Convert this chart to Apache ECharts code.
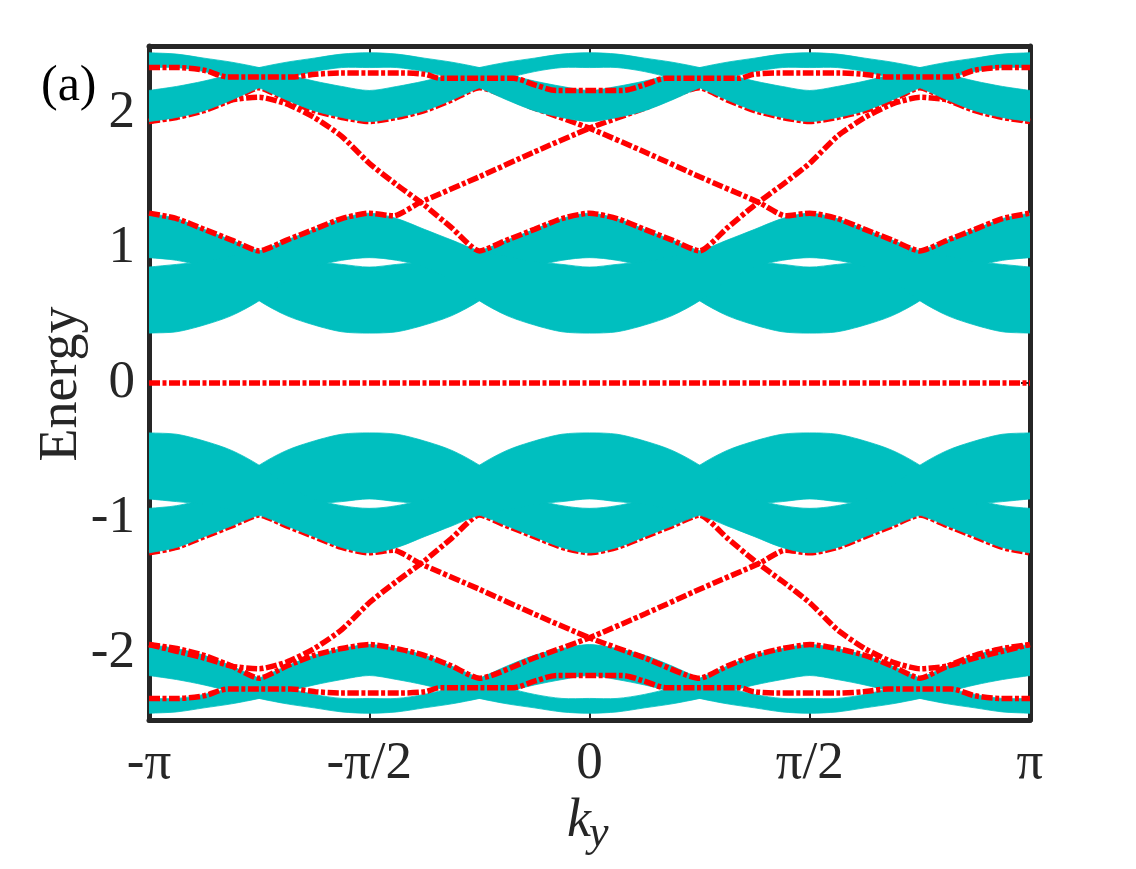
<!DOCTYPE html>
<html>
<head>
<meta charset="utf-8">
<script src="https://cdn.jsdelivr.net/npm/echarts@6/dist/echarts.min.js"></script>
<style>
  html, body { margin: 0; background: #fff; }
  #chart { width: 1136px; height: 869px; }
</style>
</head>
<body>
<div id="chart"></div>
<script>
// ky in units of pi, sampled every pi/16
const ky = [-1, -0.9375, -0.875, -0.8125, -0.75, -0.6875, -0.625, -0.5625, -0.5, -0.4375, -0.375, -0.3125, -0.25, -0.1875, -0.125, -0.0625, 0,
  0.0625, 0.125, 0.1875, 0.25, 0.3125, 0.375, 0.4375, 0.5, 0.5625, 0.625, 0.6875, 0.75, 0.8125, 0.875, 0.9375, 1];

const xTickValues = [-1, -0.5, 0, 0.5, 1];
const xTickLabels = ["-π", "-π/2", "0", "π/2", "π"];
const yTickValues = [-2, -1, 0, 1, 2];

// bulk bands, top group (two ribbons crossing)
const topQHi = [2.45, 2.44, 2.41, 2.38, 2.34, 2.29, 2.24, 2.20, 2.17, 2.20, 2.24, 2.29, 2.34, 2.38, 2.41, 2.44, 2.45,
  2.44, 2.41, 2.38, 2.34, 2.29, 2.24, 2.20, 2.17, 2.20, 2.24, 2.29, 2.34, 2.38, 2.41, 2.44, 2.45];
const topQLo = [2.34, 2.34, 2.31, 2.26, 2.19, 2.10, 2.02, 1.97, 1.94, 1.97, 2.02, 2.10, 2.19, 2.26, 2.31, 2.34, 2.34,
  2.34, 2.31, 2.26, 2.19, 2.10, 2.02, 1.97, 1.94, 1.97, 2.02, 2.10, 2.19, 2.26, 2.31, 2.34, 2.34];
const topPHi = [2.17, 2.20, 2.24, 2.29, 2.34, 2.38, 2.41, 2.44, 2.45, 2.44, 2.41, 2.38, 2.34, 2.29, 2.24, 2.20, 2.17,
  2.20, 2.24, 2.29, 2.34, 2.38, 2.41, 2.44, 2.45, 2.44, 2.41, 2.38, 2.34, 2.29, 2.24, 2.20, 2.17];
const topPLo = [1.94, 1.97, 2.02, 2.10, 2.19, 2.26, 2.31, 2.34, 2.34, 2.34, 2.31, 2.26, 2.19, 2.10, 2.02, 1.97, 1.94,
  1.97, 2.02, 2.10, 2.19, 2.26, 2.31, 2.34, 2.34, 2.34, 2.31, 2.26, 2.19, 2.10, 2.02, 1.97, 1.94];

// bulk bands, middle upper group
const midRHi = [1.26, 1.22, 1.14, 1.06, 0.98, 0.94, 0.90, 0.88, 0.86, 0.88, 0.90, 0.94, 0.98, 1.06, 1.14, 1.22, 1.26,
  1.22, 1.14, 1.06, 0.98, 0.94, 0.90, 0.88, 0.86, 0.88, 0.90, 0.94, 0.98, 1.06, 1.14, 1.22, 1.26];
const midRLo = [0.93, 0.91, 0.86, 0.76, 0.61, 0.50, 0.43, 0.38, 0.37, 0.38, 0.43, 0.50, 0.61, 0.76, 0.86, 0.91, 0.93,
  0.91, 0.86, 0.76, 0.61, 0.50, 0.43, 0.38, 0.37, 0.38, 0.43, 0.50, 0.61, 0.76, 0.86, 0.91, 0.93];
const midSHi = [0.86, 0.88, 0.90, 0.94, 0.98, 1.06, 1.14, 1.22, 1.26, 1.22, 1.14, 1.06, 0.98, 0.94, 0.90, 0.88, 0.86,
  0.88, 0.90, 0.94, 0.98, 1.06, 1.14, 1.22, 1.26, 1.22, 1.14, 1.06, 0.98, 0.94, 0.90, 0.88, 0.86];
const midSLo = [0.37, 0.38, 0.43, 0.50, 0.61, 0.76, 0.86, 0.91, 0.93, 0.91, 0.86, 0.76, 0.61, 0.50, 0.43, 0.38, 0.37,
  0.38, 0.43, 0.50, 0.61, 0.76, 0.86, 0.91, 0.93, 0.91, 0.86, 0.76, 0.61, 0.50, 0.43, 0.38, 0.37];

// bulk bands, middle lower group
const lowRHi = [-0.93, -0.91, -0.86, -0.76, -0.61, -0.50, -0.43, -0.38, -0.37, -0.38, -0.43, -0.50, -0.61, -0.76, -0.86, -0.91, -0.93,
  -0.91, -0.86, -0.76, -0.61, -0.50, -0.43, -0.38, -0.37, -0.38, -0.43, -0.50, -0.61, -0.76, -0.86, -0.91, -0.93];
const lowRLo = [-1.26, -1.22, -1.14, -1.06, -0.98, -0.94, -0.90, -0.88, -0.86, -0.88, -0.90, -0.94, -0.98, -1.06, -1.14, -1.22, -1.26,
  -1.22, -1.14, -1.06, -0.98, -0.94, -0.90, -0.88, -0.86, -0.88, -0.90, -0.94, -0.98, -1.06, -1.14, -1.22, -1.26];
const lowSHi = [-0.37, -0.38, -0.43, -0.50, -0.61, -0.76, -0.86, -0.91, -0.93, -0.91, -0.86, -0.76, -0.61, -0.50, -0.43, -0.38, -0.37,
  -0.38, -0.43, -0.50, -0.61, -0.76, -0.86, -0.91, -0.93, -0.91, -0.86, -0.76, -0.61, -0.50, -0.43, -0.38, -0.37];
const lowSLo = [-0.86, -0.88, -0.90, -0.94, -0.98, -1.06, -1.14, -1.22, -1.26, -1.22, -1.14, -1.06, -0.98, -0.94, -0.90, -0.88, -0.86,
  -0.88, -0.90, -0.94, -0.98, -1.06, -1.14, -1.22, -1.26, -1.22, -1.14, -1.06, -0.98, -0.94, -0.90, -0.88, -0.86];

// bulk bands, bottom group
const botQHi = [-2.34, -2.34, -2.31, -2.26, -2.19, -2.10, -2.02, -1.97, -1.94, -1.97, -2.02, -2.10, -2.19, -2.26, -2.31, -2.34, -2.34,
  -2.34, -2.31, -2.26, -2.19, -2.10, -2.02, -1.97, -1.94, -1.97, -2.02, -2.10, -2.19, -2.26, -2.31, -2.34, -2.34];
const botQLo = [-2.45, -2.44, -2.41, -2.38, -2.34, -2.29, -2.24, -2.20, -2.17, -2.20, -2.24, -2.29, -2.34, -2.38, -2.41, -2.44, -2.45,
  -2.44, -2.41, -2.38, -2.34, -2.29, -2.24, -2.20, -2.17, -2.20, -2.24, -2.29, -2.34, -2.38, -2.41, -2.44, -2.45];
const botPHi = [-1.94, -1.97, -2.02, -2.10, -2.19, -2.26, -2.31, -2.34, -2.34, -2.34, -2.31, -2.26, -2.19, -2.10, -2.02, -1.97, -1.94,
  -1.97, -2.02, -2.10, -2.19, -2.26, -2.31, -2.34, -2.34, -2.34, -2.31, -2.26, -2.19, -2.10, -2.02, -1.97, -1.94];
const botPLo = [-2.17, -2.20, -2.24, -2.29, -2.34, -2.38, -2.41, -2.44, -2.45, -2.44, -2.41, -2.38, -2.34, -2.29, -2.24, -2.20, -2.17,
  -2.20, -2.24, -2.29, -2.34, -2.38, -2.41, -2.44, -2.45, -2.44, -2.41, -2.38, -2.34, -2.29, -2.24, -2.20, -2.17];

// edge states (red dash-dot)
const zeroKy = [-1, 1];
const zeroE = [0, 0];

const l1Ky = [-1, -0.937, -0.875, -0.821, -0.75, -0.678, -0.622, -0.565, -0.5, -0.429, -0.373, -0.339, -0.25, -0.173, -0.123, -0.074, 0,
  0.074, 0.123, 0.173, 0.25, 0.339, 0.373, 0.429, 0.5, 0.565, 0.622, 0.678, 0.75, 0.821, 0.875, 0.937, 1];
const l1E = [2.34, 2.34, 2.32, 2.27, 2.27, 2.27, 2.29, 2.30, 2.30, 2.30, 2.29, 2.26, 2.26, 2.26, 2.21, 2.17, 2.17,
  2.17, 2.21, 2.26, 2.26, 2.26, 2.29, 2.30, 2.30, 2.30, 2.29, 2.27, 2.27, 2.27, 2.32, 2.34, 2.34];
const l1mE = [-2.34, -2.34, -2.32, -2.27, -2.27, -2.27, -2.29, -2.30, -2.30, -2.30, -2.29, -2.26, -2.26, -2.26, -2.21, -2.17, -2.17,
  -2.17, -2.21, -2.26, -2.26, -2.26, -2.29, -2.30, -2.30, -2.30, -2.29, -2.27, -2.27, -2.27, -2.32, -2.34, -2.34];

const p1Ky = [-1, -0.9375, -0.875, -0.8125, -0.75, -0.6875, -0.625, -0.5625, -0.5, -0.445, -0.384, -0.25, -0.128, 0, 0.126, 0.25,
  0.3125, 0.375, 0.4375, 0.5, 0.5625, 0.625, 0.6875, 0.75, 0.8125, 0.875, 0.9375, 1];
const p1E = [1.26, 1.22, 1.14, 1.06, 0.98, 1.06, 1.14, 1.22, 1.26, 1.24, 1.34, 1.53, 1.71, 1.89, 2.04, 2.19,
  2.10, 2.02, 1.97, 1.94, 1.97, 2.02, 2.10, 2.19, 2.10, 2.02, 1.97, 1.94];
const p1mKy = [-1, -0.9375, -0.875, -0.8125, -0.75, -0.6875, -0.625, -0.5625, -0.5, -0.4375, -0.375, -0.3125, -0.25,
  -0.126, 0, 0.128, 0.25, 0.384, 0.445, 0.5, 0.5625, 0.625, 0.6875, 0.75, 0.8125, 0.875, 0.9375, 1];
const p1mE = [1.94, 1.97, 2.02, 2.10, 2.19, 2.10, 2.02, 1.97, 1.94, 1.97, 2.02, 2.10, 2.19,
  2.04, 1.89, 1.71, 1.53, 1.34, 1.24, 1.26, 1.22, 1.14, 1.06, 0.98, 1.06, 1.14, 1.22, 1.26];
const p2E = [1.94, 1.99, 2.04, 2.10, 2.12, 2.07, 1.97, 1.83, 1.63, 1.47, 1.32, 1.15, 0.98, 1.06, 1.14, 1.22, 1.26,
  1.22, 1.14, 1.06, 0.98, 1.15, 1.32, 1.47, 1.63, 1.83, 1.97, 2.07, 2.12, 2.10, 2.04, 1.99, 1.94];

const q1E = [-1.26, -1.22, -1.14, -1.06, -0.98, -1.06, -1.14, -1.22, -1.26, -1.24, -1.34, -1.53, -1.71, -1.89, -2.04, -2.19,
  -2.10, -2.02, -1.97, -1.94, -1.97, -2.02, -2.10, -2.19, -2.10, -2.02, -1.97, -1.94];
const q1mE = [-1.94, -1.97, -2.02, -2.10, -2.19, -2.10, -2.02, -1.97, -1.94, -1.97, -2.02, -2.10, -2.19,
  -2.04, -1.89, -1.71, -1.53, -1.34, -1.24, -1.26, -1.22, -1.14, -1.06, -0.98, -1.06, -1.14, -1.22, -1.26];
const q2E = [-1.94, -1.99, -2.04, -2.10, -2.12, -2.07, -1.97, -1.83, -1.63, -1.47, -1.32, -1.15, -0.98, -1.06, -1.14, -1.22, -1.26,
  -1.22, -1.14, -1.06, -0.98, -1.15, -1.32, -1.47, -1.63, -1.83, -1.97, -2.07, -2.12, -2.10, -2.04, -1.99, -1.94];

const CYAN = "#00bfbf";
const RED = "#ff0000";
const INK = "#262626";
const SERIF = '"Liberation Serif", "Times New Roman", serif';

const pairs = (xs, ys) => xs.map((x, i) => [x, ys[i]]);

// one filled ribbon between an upper and a lower edge, drawn as a single polygon
const ribbon = (hi, lo, z) => ({
  type: "custom", z: z, silent: true, clip: true,
  data: ky.map((k, i) => [k, hi[i], lo[i]]),
  renderItem: (params, api) => {
    if (params.dataIndexInside !== 0) return;
    const upper = [], lower = [];
    for (let i = 0; i < ky.length; i++) {
      upper.push(api.coord([api.value(0, i), api.value(1, i)]));
      lower.push(api.coord([api.value(0, i), api.value(2, i)]));
    }
    lower.reverse();
    const n = upper.length;
    // corners doubled so the smoothing keeps them sharp
    const pts = [upper[0]].concat(upper, [upper[n - 1], lower[0]], lower, [lower[n - 1]]);
    return {
      type: "polygon",
      shape: { points: pts, smooth: 0.3 },
      style: { fill: CYAN, stroke: CYAN, lineWidth: 0.8 },
    };
  },
});

const edge = (xs, ys, z, smooth) => ({
  type: "line", z: z, smooth: smooth, symbol: "none", silent: true,
  data: pairs(xs, ys),
  lineStyle: { color: RED, width: 5.5, type: [11, 2.5, 4, 2.5], cap: "butt" },
});

const chart = echarts.init(document.getElementById("chart"));

const xBase = {
  type: "value", min: -1, max: 1, interval: 0.5,
  axisLine: { show: true, onZero: false, lineStyle: { color: INK, width: 5 } },
  axisTick: { show: true, inside: true, length: 9, lineStyle: { color: INK, width: 2 } },
  splitLine: { show: false },
};
const yBase = {
  type: "value", min: -2.5, max: 2.5,
  axisLine: { show: true, onZero: false, lineStyle: { color: INK, width: 5 } },
  axisTick: { show: true, inside: true, length: 9, customValues: yTickValues, lineStyle: { color: INK, width: 2 } },
  splitLine: { show: false },
};

chart.setOption({
  animation: false,
  backgroundColor: "#fff",
  grid: { left: 149, top: 46, width: 881, height: 674 },
  xAxis: [
    Object.assign({}, xBase, {
      position: "bottom",
      axisLabel: {
        margin: 18, fontFamily: SERIF, fontSize: 53, color: INK,
        formatter: (v) => xTickLabels[xTickValues.indexOf(Math.round(v * 2) / 2)],
      },
    }),
    Object.assign({}, xBase, { position: "top", axisLabel: { show: false } }),
  ],
  yAxis: [
    Object.assign({}, yBase, {
      position: "left",
      axisLabel: { margin: 14, fontFamily: SERIF, fontSize: 53, color: INK, customValues: yTickValues },
    }),
    Object.assign({}, yBase, { position: "right", axisLabel: { show: false } }),
  ],
  graphic: [
    { type: "text", x: 41, y: 87, style: { text: "(a)", fontFamily: SERIF, fontSize: 50, fill: "#000", verticalAlign: "middle" } },
    { type: "text", x: 62, y: 384, rotation: Math.PI / 2,
      style: { text: "Energy", fontFamily: SERIF, fontSize: 54, fill: INK, align: "center", verticalAlign: "middle" } },
    { type: "text", x: 591, y: 822,
      style: { text: "k", fontFamily: SERIF, fontStyle: "italic", fontSize: 54, fill: INK, align: "right", verticalAlign: "middle" } },
    { type: "text", x: 589, y: 834,
      style: { text: "y", fontFamily: SERIF, fontStyle: "italic", fontSize: 44, fill: INK, align: "left", verticalAlign: "middle" } },
  ],
  series: [
    ribbon(botQHi, botQLo, 1),
    ribbon(botPHi, botPLo, 1),
    edge(l1Ky, l1mE, 2, 0.3), edge(p1Ky, q1E, 2, 0.2), edge(p1mKy, q1mE, 2, 0.2), edge(ky, q2E, 2, 0.2),
    ribbon(lowRHi, lowRLo, 3),
    ribbon(lowSHi, lowSLo, 3),
    edge(zeroKy, zeroE, 4, false),
    ribbon(midRHi, midRLo, 5),
    ribbon(midSHi, midSLo, 5),
    edge(p1Ky, p1E, 6, 0.2), edge(p1mKy, p1mE, 6, 0.2), edge(ky, p2E, 6, 0.2),
    ribbon(topQHi, topQLo, 7),
    ribbon(topPHi, topPLo, 7),
    edge(l1Ky, l1E, 8, 0.3),
  ],
});
</script>
</body>
</html>
